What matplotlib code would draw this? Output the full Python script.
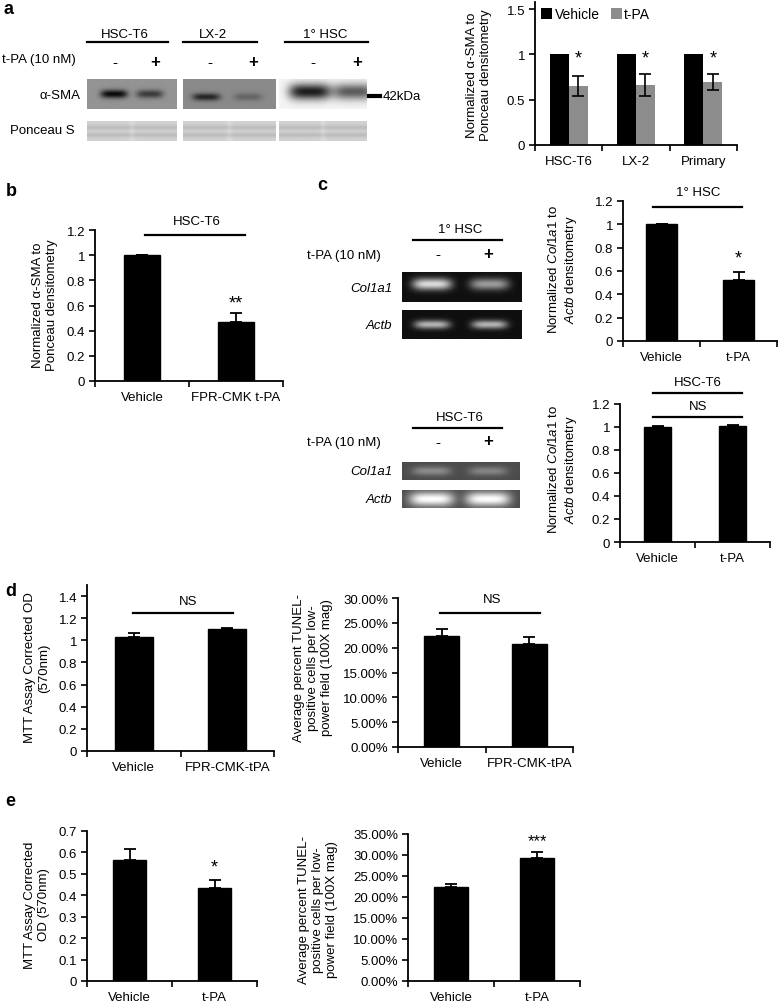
import numpy as np
import matplotlib
matplotlib.use('Agg')
import matplotlib.pyplot as plt
from matplotlib.lines import Line2D

plt.rcParams['font.family'] = ['Liberation Sans', 'DejaVu Sans']
plt.rcParams['mathtext.fontset'] = 'custom'
plt.rcParams['mathtext.rm'] = 'Liberation Sans'
plt.rcParams['mathtext.it'] = 'Liberation Sans:italic'

# ---------------- data ----------------
a_groups = ['HSC-T6', 'LX-2', 'Primary']
a_vehicle = [1.0, 1.0, 1.0]
a_tpa = [0.65, 0.66, 0.70]
a_tpa_err = [0.11, 0.12, 0.09]

b_cats = ['Vehicle', 'FPR-CMK t-PA']
b_vals = [1.0, 0.47]
b_err = [0.004, 0.07]

c1_cats = ['Vehicle', 't-PA']
c1_vals = [1.0, 0.52]
c1_err = [0.0, 0.07]

c2_cats = ['Vehicle', 't-PA']
c2_vals = [1.0, 1.005]
c2_err = [0.01, 0.015]

d1_cats = ['Vehicle', 'FPR-CMK-tPA']
d1_vals = [1.03, 1.10]
d1_err = [0.04, 0.012]

d2_cats = ['Vehicle', 'FPR-CMK-tPA']
d2_vals = [0.224, 0.208]
d2_err = [0.014, 0.014]

e1_cats = ['Vehicle', 't-PA']
e1_vals = [0.565, 0.433]
e1_err = [0.05, 0.04]

e2_cats = ['Vehicle', 't-PA']
e2_vals = [0.224, 0.294]
e2_err = [0.007, 0.014]

# band intensities for blot pictures (lane '-' , lane '+')
sma_bands = {'HSC-T6': [0.55, 0.35], 'LX-2': [0.40, 0.15], '1° HSC': [0.85, 0.6]}
col1a1_primary = [0.8, 0.55]
actb_primary = [0.65, 0.65]
col1a1_t6 = [0.25, 0.22]
actb_t6 = [0.7, 0.7]

W, H = 779, 1003
fig = plt.figure(figsize=(W / 100, H / 100), dpi=100)
FS = 9.5


def px_ax(x0, x1, ytop, ybot):
    return fig.add_axes([x0 / W, 1 - ybot / H, (x1 - x0) / W, (ybot - ytop) / H])


def ftext(x, y, s, **kw):
    kw.setdefault('fontsize', FS)
    kw.setdefault('ha', 'center')
    kw.setdefault('va', 'center')
    fig.text(x / W, 1 - y / H, s, **kw)


def fline(x0, x1, y, lw=1.6):
    fig.add_artist(Line2D([x0 / W, x1 / W], [1 - y / H] * 2, color='k', lw=lw))


def style_ax(ax, cats, ymax, yticks, yticklabels):
    n = len(cats)
    ax.set_xlim(0, n)
    ax.set_ylim(0, ymax)
    for s in ['top', 'right']:
        ax.spines[s].set_visible(False)
    for s in ['left', 'bottom']:
        ax.spines[s].set_linewidth(1.3)
    ax.set_xticks(range(n + 1))
    ax.set_xticklabels([])
    ax.set_xticks([i + 0.5 for i in range(n)], minor=True)
    ax.set_xticklabels(cats, minor=True, fontsize=FS)
    ax.tick_params(axis='x', which='major', direction='out', length=4, width=1.2)
    ax.tick_params(axis='x', which='minor', length=0, pad=7)
    ax.set_yticks(yticks)
    ax.set_yticklabels(yticklabels, fontsize=FS)
    ax.tick_params(axis='y', direction='out', length=4, width=1.2, pad=3)


def simple_bars(ax, cats, vals, errs, width=0.4):
    xs = [i + 0.5 for i in range(len(cats))]
    ax.bar(xs, vals, width=width, color='black', edgecolor='black', zorder=2)
    ax.errorbar(xs, vals, yerr=[[0] * len(errs), errs], fmt='none', ecolor='black',
                elinewidth=1.3, capsize=4, capthick=1.3, zorder=3)
    return xs


def blot(x0, x1, y0, y1, bg, bands, band_y=0.5, band_w=0.28, band_h=0.25,
         lanes=(0.28, 0.72)):
    ax = px_ax(x0, x1, y0, y1)
    nx, ny = 200, 60
    xx, yy = np.meshgrid(np.linspace(0, 1, nx), np.linspace(0, 1, ny))
    img = np.full((ny, nx), float(bg))
    for i, amp in enumerate(bands):
        g = np.exp(-(((xx - lanes[i]) / (band_w / 2)) ** 4) - (((yy - band_y) / (band_h / 2)) ** 2))
        img = img + amp * g
    img = np.clip(img, 0, 1)
    ax.imshow(img, cmap='gray', vmin=0, vmax=1, aspect='auto', extent=(0, 1, 1, 0),
              interpolation='bilinear')
    ax.set_xticks([])
    ax.set_yticks([])
    for s in ax.spines.values():
        s.set_visible(False)
    return ax


def ponceau(x0, x1, y0, y1):
    ax = px_ax(x0, x1, y0, y1)
    nx, ny = 200, 40
    xx, yy = np.meshgrid(np.linspace(0, 1, nx), np.linspace(0, 1, ny))
    img = np.full((ny, nx), 0.82)
    for yc in (0.32, 0.7):
        img -= 0.08 * np.exp(-((yy - yc) / 0.12) ** 2)
    img += 0.04 * np.exp(-((xx - 0.5) / 0.03) ** 2)
    ax.imshow(np.clip(img, 0, 1), cmap='gray', vmin=0, vmax=1, aspect='auto',
              extent=(0, 1, 1, 0), interpolation='bilinear')
    ax.set_xticks([])
    ax.set_yticks([])
    for s in ax.spines.values():
        s.set_visible(False)


# ---------------- panel a: blots ----------------
ftext(4, 9, 'a', fontsize=13, fontweight='bold', ha='left')
for name, xc, xl, xr, lm, lp in [('HSC-T6', 125, 87, 168, 115, 155),
                                 ('LX-2', 213, 183, 257, 210, 253),
                                 ('1° HSC', 325, 285, 368, 313, 357)]:
    ftext(xc, 35, name)
    fline(xl, xr, 43)
    ftext(lm, 63, '-', fontsize=11)
    ftext(lp, 62, '+', fontsize=12, fontweight='bold')
ftext(2, 60, 't-PA (10 nM)', ha='left')
ftext(60, 96, 'α-SMA')
ftext(42, 131, 'Ponceau S')

blot(87, 177, 80, 110, 0.58, [-sma_bands['HSC-T6'][0], -sma_bands['HSC-T6'][1]],
     band_y=0.5, band_w=0.3, band_h=0.28, lanes=(0.3, 0.7))
blot(183, 276, 80, 110, 0.54, [-sma_bands['LX-2'][0], -sma_bands['LX-2'][1]],
     band_y=0.6, band_w=0.3, band_h=0.25, lanes=(0.25, 0.7))
blot(279, 367, 80, 110, 0.96, [-sma_bands['1° HSC'][0], -sma_bands['1° HSC'][1]],
     band_y=0.42, band_w=0.48, band_h=0.55, lanes=(0.35, 0.85))
ponceau(87, 177, 122, 142)
ponceau(183, 276, 122, 142)
ponceau(279, 367, 122, 142)
fline(369, 380, 97, lw=3)
ftext(383, 97, '42kDa', ha='left')

# ---------------- panel a: bar chart ----------------
ax = px_ax(535, 737, 3, 146)
style_ax(ax, a_groups, 1.58, [0, 0.5, 1, 1.5], ['0', '0.5', '1', '1.5'])
w = 0.28
xs = np.arange(len(a_groups)) + 0.5
ax.bar(xs - w / 2, a_vehicle, width=w, color='black', label='Vehicle', zorder=2)
ax.bar(xs + w / 2, a_tpa, width=w, color='#8c8c8c', label='t-PA', zorder=2)
ax.errorbar(xs + w / 2, a_tpa, yerr=a_tpa_err, fmt='none', ecolor='black',
            elinewidth=1.2, capsize=4, capthick=1.2, zorder=3)
for x in xs:
    ax.text(x + w / 2, 0.96, '*', ha='center', va='center', fontsize=13)
leg = ax.legend(loc='upper left', bbox_to_anchor=(-0.01, 1.02), ncol=2, frameon=False,
                fontsize=FS + 0.5, handlelength=0.8, handleheight=0.8, handletextpad=0.15,
                columnspacing=0.8, borderaxespad=0.2)
ftext(479, 75, 'Normalized α-SMA to\nPonceau densitometry', rotation=90)

# ---------------- panel b ----------------
ftext(6, 192, 'b', fontsize=13, fontweight='bold', ha='left')
ax = px_ax(95, 283, 231, 382)
style_ax(ax, b_cats, 1.2, [0, 0.2, 0.4, 0.6, 0.8, 1, 1.2],
         ['0', '0.2', '0.4', '0.6', '0.8', '1', '1.2'])
bx = simple_bars(ax, b_cats, b_vals, b_err, width=0.39)
ax.text(bx[1], 0.62, '**', ha='center', va='center', fontsize=13)
ftext(197, 222, 'HSC-T6')
fline(145, 245, 236)
ftext(45, 305, 'Normalized α-SMA to\nPonceau densitometry', rotation=90)

# ---------------- panel c: blots ----------------
ftext(317, 185, 'c', fontsize=13, fontweight='bold', ha='left')
ftext(460, 230, '1° HSC')
fline(413, 502, 241)
ftext(307, 256, 't-PA (10 nM)', ha='left')
ftext(438, 255, '-', fontsize=11)
ftext(488, 254, '+', fontsize=12, fontweight='bold')
ftext(392, 289, 'Col1a1', ha='right', style='italic')
ftext(392, 326, 'Actb', ha='right', style='italic')
blot(402, 522, 273, 303, 0.06, col1a1_primary, band_y=0.4, band_w=0.33, band_h=0.4,
     lanes=(0.25, 0.73))
blot(402, 522, 311, 340, 0.06, actb_primary, band_y=0.5, band_w=0.3, band_h=0.3,
     lanes=(0.25, 0.73))

ftext(460, 418, 'HSC-T6')
fline(413, 502, 429)
ftext(307, 443, 't-PA (10 nM)', ha='left')
ftext(438, 443, '-', fontsize=11)
ftext(488, 442, '+', fontsize=12, fontweight='bold')
ftext(392, 472, 'Col1a1', ha='right', style='italic')
ftext(392, 500, 'Actb', ha='right', style='italic')
blot(402, 520, 463, 481, 0.30, col1a1_t6, band_y=0.5, band_w=0.33, band_h=0.5,
     lanes=(0.25, 0.73))
blot(402, 520, 491, 509, 0.30, actb_t6, band_y=0.5, band_w=0.38, band_h=0.8,
     lanes=(0.25, 0.73))

# ---------------- panel c: bar charts ----------------
ax = px_ax(623, 777, 202, 342)
style_ax(ax, c1_cats, 1.2, [0, 0.2, 0.4, 0.6, 0.8, 1, 1.2],
         ['0', '0.2', '0.4', '0.6', '0.8', '1', '1.2'])
cx = simple_bars(ax, c1_cats, c1_vals, c1_err, width=0.39)
ax.text(cx[1], 0.71, '*', ha='center', va='center', fontsize=13)
ftext(698, 193, '1° HSC')
fline(653, 742, 208)
ftext(563, 270, 'Normalized $\\mathit{Col1a1}$ to\n$\\mathit{Actb}$ densitometry', rotation=90)

ax = px_ax(620, 770, 405, 543)
style_ax(ax, c2_cats, 1.2, [0, 0.2, 0.4, 0.6, 0.8, 1, 1.2],
         ['0', '0.2', '0.4', '0.6', '0.8', '1', '1.2'])
simple_bars(ax, c2_cats, c2_vals, c2_err, width=0.36)
ftext(698, 383, 'HSC-T6')
fline(653, 742, 394)
ftext(698, 407, 'NS')
fline(653, 742, 418)
ftext(563, 470, 'Normalized $\\mathit{Col1a1}$ to\n$\\mathit{Actb}$ densitometry', rotation=90)

# ---------------- panel d ----------------
ftext(5, 592, 'd', fontsize=13, fontweight='bold', ha='left')
ax = px_ax(87, 274, 586, 752)
style_ax(ax, d1_cats, 1.5, [0, 0.2, 0.4, 0.6, 0.8, 1, 1.2, 1.4],
         ['0', '0.2', '0.4', '0.6', '0.8', '1', '1.2', '1.4'])
simple_bars(ax, d1_cats, d1_vals, d1_err, width=0.41)
ftext(188, 602, 'NS')
fline(133, 233, 614)
ftext(37, 668, 'MTT Assay Corrected OD\n(570nm)', rotation=90)

ax = px_ax(398, 573, 599, 748)
pct = [0, 0.05, 0.10, 0.15, 0.20, 0.25, 0.30]
style_ax(ax, d2_cats, 0.30, pct, ['%.2f%%' % (p * 100) for p in pct])
simple_bars(ax, d2_cats, d2_vals, d2_err, width=0.4)
ftext(492, 600, 'NS')
fline(440, 540, 614)
ftext(313, 668, 'Average percent TUNEL-\npositive cells per low-\npower field (100X mag)',
      rotation=90)

# ---------------- panel e ----------------
ftext(5, 802, 'e', fontsize=13, fontweight='bold', ha='left')
ax = px_ax(87, 257, 832, 982)
style_ax(ax, e1_cats, 0.7, [0, 0.1, 0.2, 0.3, 0.4, 0.5, 0.6, 0.7],
         ['0', '0.1', '0.2', '0.3', '0.4', '0.5', '0.6', '0.7'])
ex = simple_bars(ax, e1_cats, e1_vals, e1_err, width=0.38)
ax.text(ex[1], 0.53, '*', ha='center', va='center', fontsize=13)
ftext(37, 905, 'MTT Assay Corrected\nOD (570nm)', rotation=90)

ax = px_ax(408, 580, 835, 982)
pct2 = [0, 0.05, 0.10, 0.15, 0.20, 0.25, 0.30, 0.35]
style_ax(ax, e2_cats, 0.35, pct2, ['%.2f%%' % (p * 100) for p in pct2])
ex2 = simple_bars(ax, e2_cats, e2_vals, e2_err, width=0.4)
ax.text(ex2[1], 0.335, '***', ha='center', va='center', fontsize=12)
ftext(318, 910, 'Average percent TUNEL-\npositive cells per low-\npower field (100X mag)',
      rotation=90)

fig.savefig('out.png', dpi=100)
